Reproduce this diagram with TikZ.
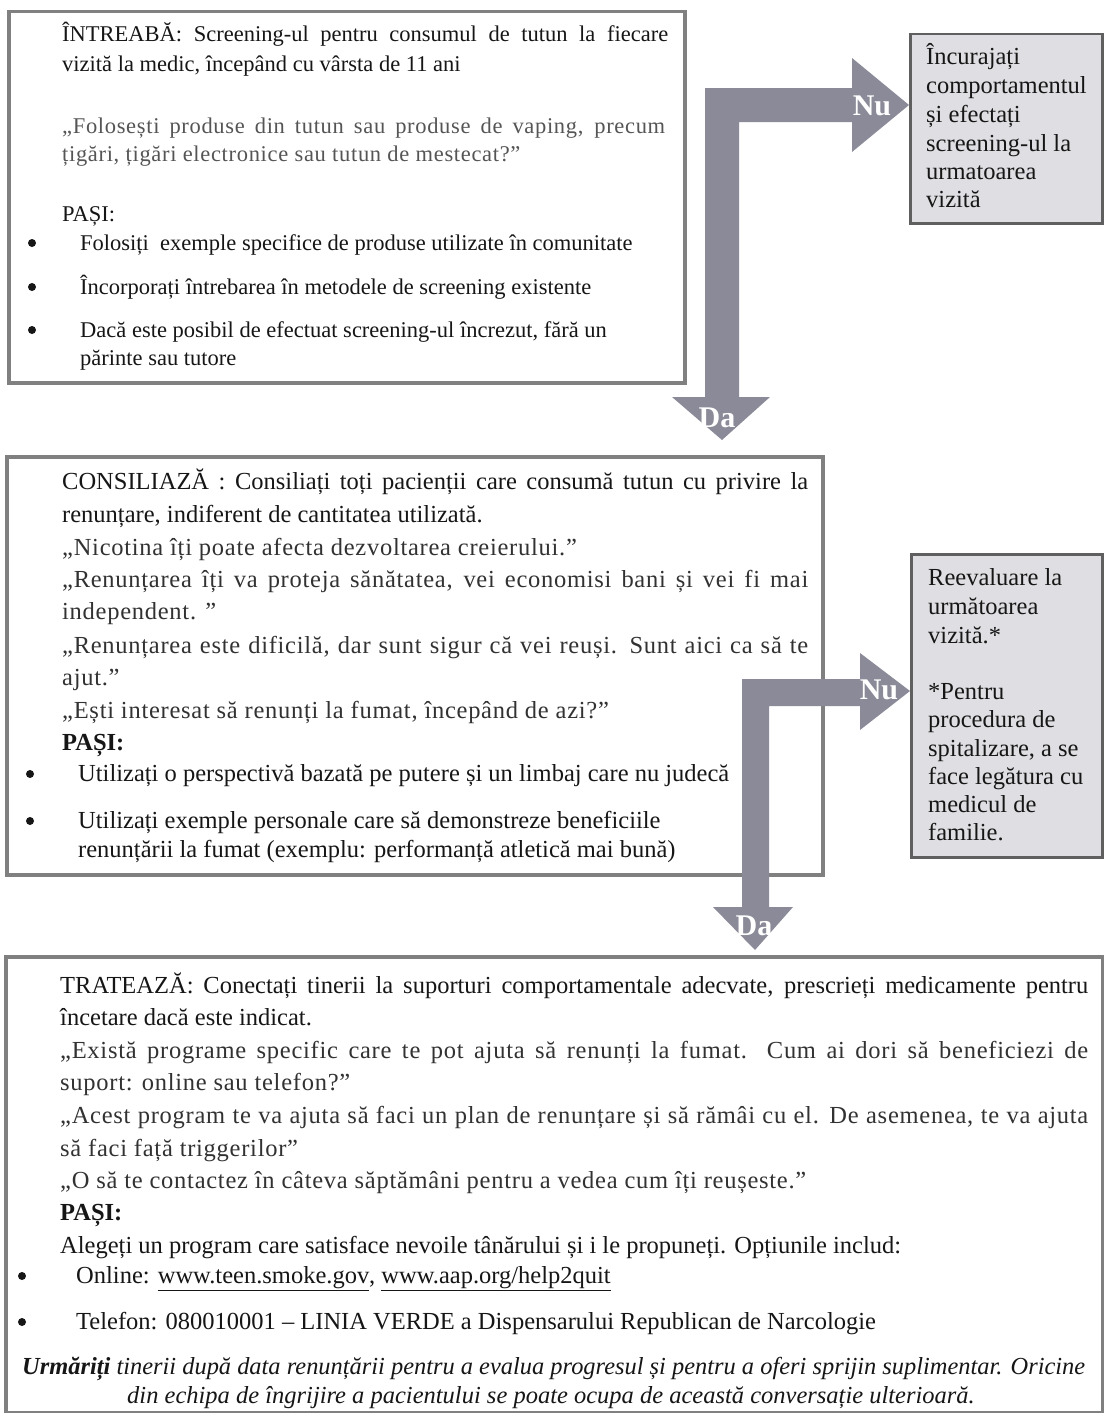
\documentclass[tikz,border=0pt]{standalone}
\usepackage{fontspec}
\usepackage{graphicx}
\setmainfont{Liberation Serif}
\newfontfamily\qfont{Liberation Serif}[LetterSpace=3.0]
\definecolor{boxline}{RGB}{128,128,128}
\definecolor{sidefill}{RGB}{223,223,227}
\definecolor{sideline}{RGB}{95,95,95}
\definecolor{arrowfill}{RGB}{138,138,152}
\definecolor{txt}{RGB}{22,22,22}
\definecolor{qtxtA}{RGB}{85,85,85}
\definecolor{qtxtB}{RGB}{50,50,50}
\newlength\JLnat
\newcommand\jline[2]{\settowidth\JLnat{#2}\ifdim\JLnat>#1\relax\resizebox{#1}{\height}{#2}\else\makebox[#1][s]{#2}\fi}
\tikzset{
  mainbox/.style={draw=boxline, line width=3.5pt, fill=white, anchor=north west, inner sep=0pt},
  sidebox/.style={draw=sideline, line width=2.5pt, fill=sidefill, anchor=north west, inner sep=0pt},
  blockarrow/.style={fill=arrowfill, draw=none},
  ln/.style={anchor=base west, inner sep=0pt, text=txt},
  dot/.style={circle, fill=txt, draw=none, inner sep=0pt, minimum size=8pt},
  fa/.style={font=\fontsize{22.5}{26}\selectfont},
  fb/.style={font=\fontsize{24.5}{28}\selectfont},
  qa/.style={text=qtxtA, font=\fontsize{22.5}{26}\selectfont\qfont},
  qb/.style={text=qtxtB, font=\fontsize{24.5}{28}\selectfont\qfont},
  fi/.style={font=\fontsize{24.5}{28}\selectfont\itshape},
  lbl/.style={text=white, font=\fontsize{30}{32}\selectfont\bfseries, inner sep=0pt}
}
\begin{document}
\begin{tikzpicture}[x=1pt,y=-1pt]
\useasboundingbox (0,0) rectangle (1103,1413);
% boxes
\node[mainbox, minimum width=676pt, minimum height=371pt] (ask) at (7,10) {};
\node[mainbox, minimum width=816pt, minimum height=418pt] (advise) at (5,455) {};
\node[mainbox, minimum width=1097pt, minimum height=456pt] (treat) at (4,955) {};
\node[sidebox, minimum width=192pt, minimum height=189pt] (nuA) at (909,33) {};
\node[sidebox, minimum width=191pt, minimum height=303pt] (nuB) at (910,553) {};
% block arrows
\path[blockarrow] (705,88) -- (852,88) -- (852,58) -- (909,105) -- (852,152) -- (852,122)
  -- (739,122) -- (739,397) -- (770,397) -- (722,440) -- (672,397) -- (705,397) -- cycle;
\path[blockarrow] (742,679) -- (860,679) -- (860,653) -- (910,691) -- (860,730) -- (860,706)
  -- (769,706) -- (769,907) -- (793,907) -- (755,950) -- (713,907) -- (742,907) -- cycle;
\node[lbl] (nuA-l) at (872,106) {Nu};
\node[lbl] (daA-l) at (717,418) {Da};
\node[lbl] (nuB-l) at (879,690) {Nu};
\node[lbl] (daB-l) at (754,926) {Da};
% ASK text
\node[ln,fa] (a1) at (62,42) {\jline{606pt}{ÎNTREABĂ: Screening-ul pentru consumul de tutun la fiecare}};
\node[ln,fa] (a2) at (62,71) {vizită la medic, începând cu vârsta de 11 ani};
\node[ln,qa] (a3) at (62,133) {\jline{603pt}{„Folosești produse din tutun sau produse de vaping, precum}};
\node[ln,qa] (a4) at (62,161) {țigări, țigări electronice sau tutun de mestecat?”};
\node[ln,fa] (a5) at (62,221) {PAȘI:};
\node[dot] (a6b) at (32,243) {};
\node[ln,fa] (a6) at (80,250) {Folosiți \ exemple specifice de produse utilizate în comunitate};
\node[dot] (a7b) at (32,287) {};
\node[ln,fa] (a7) at (80,294) {Încorporați întrebarea în metodele de screening existente};
\node[dot] (a8b) at (32,330) {};
\node[ln,fa] (a8) at (80,337) {Dacă este posibil de efectuat screening-ul încrezut, fără un};
\node[ln,fa] (a9) at (80,365) {părinte sau tutore};
% side box A
\node[ln,fb] (s1) at (926,65) {Încurajați};
\node[ln,fb] (s2) at (926,93) {comportamentul};
\node[ln,fb] (s3) at (926,122) {și efectați};
\node[ln,fb] (s4) at (926,151) {screening-ul la};
\node[ln,fb] (s5) at (926,179) {urmatoarea};
\node[ln,fb] (s6) at (926,207) {vizită};
% ADVISE text
\node[ln,fb] (b1) at (62,489) {\jline{746pt}{CONSILIAZĂ : Consiliați toți pacienții care consumă tutun cu privire la}};
\node[ln,fb] (b2) at (62,522) {renunțare, indiferent de cantitatea utilizată.};
\node[ln,qb] (b3) at (62,555) {„Nicotina îți poate afecta dezvoltarea creierului.”};
\node[ln,qb] (b4) at (62,587) {\jline{746pt}{„Renunțarea îți va proteja sănătatea, vei economisi bani și vei fi mai}};
\node[ln,qb] (b5) at (62,619) {independent. ”};
\node[ln,qb] (b6) at (62,653) {\jline{746pt}{„Renunțarea este dificilă, dar sunt sigur că vei reuși. Sunt aici ca să te}};
\node[ln,qb] (b7) at (62,685) {ajut.”};
\node[ln,qb] (b8) at (62,718) {„Ești interesat să renunți la fumat, începând de azi?”};
\node[ln,fb] (b9) at (62,750) {\textbf{PAȘI:}};
\node[dot] (b10b) at (30,774) {};
\node[ln,fb] (b10) at (78,781) {Utilizați o perspectivă bazată pe putere și un limbaj care nu judecă};
\node[dot] (b11b) at (30,821) {};
\node[ln,fb] (b11) at (78,828) {Utilizați exemple personale care să demonstreze beneficiile};
\node[ln,fb] (b12) at (78,857) {renunțării la fumat (exemplu: performanță atletică mai bună)};
% side box B
\node[ln,fb] (r1) at (928,585) {Reevaluare la};
\node[ln,fb] (r2) at (928,614) {următoarea};
\node[ln,fb] (r3) at (928,643) {vizită.*};
\node[ln,fb] (r4) at (928,699) {*Pentru};
\node[ln,fb] (r5) at (928,727) {procedura de};
\node[ln,fb] (r6) at (928,756) {spitalizare, a se};
\node[ln,fb] (r7) at (928,784) {face legătura cu};
\node[ln,fb] (r8) at (928,812) {medicul de};
\node[ln,fb] (r9) at (928,840) {familie.};
% TREAT text
\node[ln,fb] (c1) at (60,993) {\jline{1028pt}{TRATEAZĂ: Conectați tinerii la suporturi comportamentale adecvate, prescrieți medicamente pentru}};
\node[ln,fb] (c2) at (60,1025) {încetare dacă este indicat.};
\node[ln,qb] (c3) at (60,1058) {\jline{1028pt}{„Există programe specific care te pot ajuta să renunți la fumat. Cum ai dori să beneficiezi de}};
\node[ln,qb] (c4) at (60,1090) {suport: online sau telefon?”};
\node[ln,qb] (c5) at (60,1123) {\jline{1028pt}{„Acest program te va ajuta să faci un plan de renunțare și să rămâi cu el. De asemenea, te va ajuta}};
\node[ln,qb] (c6) at (60,1156) {să faci față triggerilor”};
\node[ln,qb] (c7) at (60,1188) {„O să te contactez în câteva săptămâni pentru a vedea cum îți reușeste.”};
\node[ln,fb] (c8) at (60,1220) {\textbf{PAȘI:}};
\node[ln,fb] (c9) at (60,1253) {Alegeți un program care satisface nevoile tânărului și i le propuneți. Opțiunile includ:};
\node[dot] (c10b) at (22,1276) {};
\node[ln,fb] (c10) at (76,1283) {Online: \underline{www.teen.smoke.gov}, \underline{www.aap.org/help2quit}};
\node[dot] (c11b) at (22,1322) {};
\node[ln,fb] (c11) at (76,1329) {Telefon: 080010001 – LINIA VERDE a Dispensarului Republican de Narcologie};
\node[ln,fi] (c12) at (22,1374) {\jline{1063pt}{\textbf{Urmăriți} tinerii după data renunțării pentru a evalua progresul și pentru a oferi sprijin suplimentar. Oricine}};
\node[ln,fi,anchor=base] (c13) at (551,1403) {din echipa de îngrijire a pacientului se poate ocupa de această conversație ulterioară.};
\end{tikzpicture}
\end{document}
